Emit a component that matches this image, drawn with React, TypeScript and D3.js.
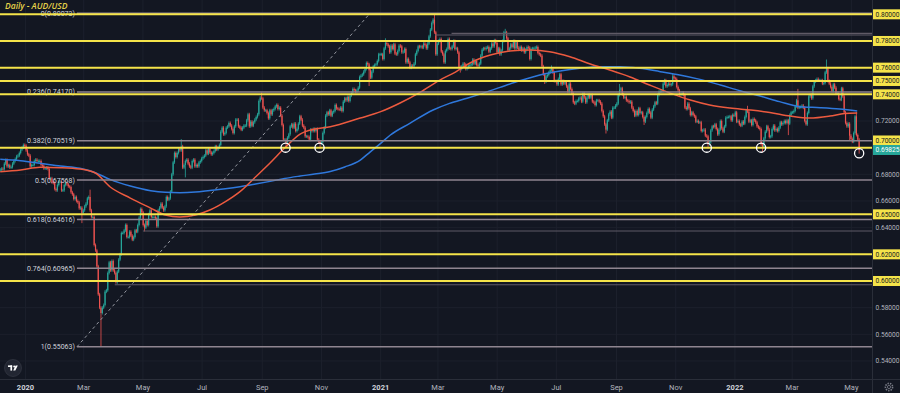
import React, { useEffect, useMemo } from "react";
import * as d3 from "d3";

// ---------------- DATA ----------------
const title = "Daily - AUD/USD";

const firstDay = "2019-12-06";
const lastDay = "2022-05-09";
const firstOpen = 0.683;

const monthKeys = [
  "2019-12",
  "2020-01", "2020-02", "2020-03", "2020-04", "2020-05", "2020-06",
  "2020-07", "2020-08", "2020-09", "2020-10", "2020-11", "2020-12",
  "2021-01", "2021-02", "2021-03", "2021-04", "2021-05", "2021-06",
  "2021-07", "2021-08", "2021-09", "2021-10", "2021-11", "2021-12",
  "2022-01", "2022-02", "2022-03", "2022-04", "2022-05",
];

// daily closes, in pips (price x 10000)
const dec19 = [6835, 6842, 6838, 6880, 6908, 6860, 6868, 6852, 6855, 6880, 6900, 6915, 6935, 6940, 6960, 6985, 7000, 7020];
const jan20 = [7015, 6980, 6950, 6940, 6860, 6870, 6870, 6900, 6910, 6900, 6900, 6900, 6870, 6865, 6845, 6845, 6850, 6840, 6770, 6770, 6740, 6735, 6690];
const feb20 = [6680, 6720, 6745, 6745, 6680, 6680, 6720, 6735, 6725, 6710, 6705, 6665, 6650, 6615, 6630, 6600, 6590, 6545, 6550, 6510];
const mar20 = [6530, 6560, 6580, 6620, 6630, 6530, 6480, 6480, 6270, 6230, 6110, 5900, 5800, 5760, 5800, 5820, 5920, 5930, 6060, 6140, 6080, 6150];
const apr20 = [6080, 6060, 5990, 6070, 6160, 6200, 6360, 6360, 6380, 6420, 6330, 6330, 6370, 6340, 6310, 6330, 6380, 6370, 6420, 6475, 6540, 6515];
const may20 = [6420, 6400, 6450, 6420, 6500, 6530, 6480, 6480, 6480, 6470, 6410, 6530, 6550, 6580, 6550, 6530, 6560, 6630, 6610, 6620, 6670];
const jun20 = [6800, 6890, 6960, 6930, 6960, 6990, 6980, 7010, 6850, 6870, 6900, 6910, 6880, 6860, 6850, 6900, 6910, 6860, 6870, 6860, 6890, 6900];
const jul20 = [6920, 6930, 6940, 6980, 6955, 6990, 6965, 6950, 6960, 6975, 7010, 6985, 7000, 7020, 7120, 7150, 7100, 7110, 7150, 7160, 7185, 7165, 7140];
const aug20 = [7110, 7160, 7210, 7210, 7160, 7150, 7135, 7150, 7165, 7165, 7205, 7250, 7160, 7195, 7165, 7190, 7210, 7230, 7250, 7350, 7375];
const sep20 = [7370, 7300, 7280, 7280, 7260, 7220, 7280, 7250, 7280, 7290, 7310, 7320, 7290, 7300, 7240, 7170, 7060, 7060, 7040, 7075, 7100, 7160];
const oct20 = [7175, 7150, 7180, 7125, 7140, 7180, 7235, 7210, 7165, 7150, 7085, 7085, 7080, 7060, 7135, 7125, 7140, 7125, 7140, 7060, 7045, 7030];
const nov20 = [7040, 7110, 7150, 7240, 7265, 7250, 7280, 7240, 7265, 7275, 7320, 7295, 7290, 7285, 7300, 7275, 7345, 7370, 7355, 7380, 7350];
const dec20 = [7390, 7410, 7440, 7430, 7420, 7430, 7450, 7530, 7540, 7550, 7570, 7590, 7635, 7625, 7580, 7525, 7570, 7610, 7620, 7625, 7650, 7700, 7700];
const jan21 = [7700, 7665, 7745, 7785, 7775, 7760, 7715, 7765, 7740, 7775, 7705, 7700, 7725, 7765, 7760, 7715, 7720, 7740, 7640, 7665, 7640];
const feb21 = [7600, 7615, 7610, 7630, 7700, 7725, 7760, 7755, 7760, 7750, 7780, 7770, 7745, 7780, 7835, 7885, 7935, 7960, 7865, 7700];
const mar21 = [7780, 7800, 7815, 7720, 7700, 7640, 7725, 7740, 7815, 7745, 7740, 7760, 7800, 7740, 7745, 7715, 7605, 7590, 7610, 7630, 7625, 7590, 7600];
const apr21 = [7610, 7620, 7625, 7660, 7630, 7650, 7620, 7615, 7630, 7690, 7735, 7745, 7740, 7750, 7755, 7720, 7745, 7780, 7760, 7805, 7785, 7715];
const may21 = [7745, 7700, 7730, 7800, 7865, 7865, 7820, 7730, 7745, 7775, 7755, 7800, 7745, 7790, 7750, 7735, 7755, 7730, 7745, 7715, 7735];
const jun21 = [7755, 7750, 7665, 7740, 7745, 7745, 7750, 7755, 7710, 7700, 7690, 7610, 7550, 7495, 7535, 7545, 7565, 7580, 7590, 7565, 7500, 7500];
const jul21 = [7475, 7515, 7550, 7475, 7500, 7480, 7495, 7460, 7420, 7480, 7440, 7405, 7340, 7330, 7350, 7350, 7370, 7375, 7345, 7405, 7375, 7340];
const aug21 = [7375, 7395, 7375, 7395, 7345, 7340, 7320, 7355, 7355, 7345, 7330, 7275, 7235, 7175, 7135, 7205, 7250, 7270, 7225, 7300, 7300, 7315];
const sep21 = [7330, 7395, 7435, 7445, 7400, 7375, 7380, 7355, 7350, 7340, 7345, 7300, 7275, 7240, 7275, 7245, 7295, 7260, 7265, 7230, 7195, 7230];
const oct21 = [7260, 7290, 7265, 7225, 7285, 7310, 7340, 7330, 7395, 7420, 7420, 7425, 7480, 7505, 7460, 7470, 7480, 7470, 7475, 7535, 7520];
const nov21 = [7515, 7455, 7430, 7400, 7400, 7410, 7395, 7300, 7290, 7330, 7295, 7245, 7265, 7245, 7235, 7195, 7200, 7190, 7190, 7125, 7130, 7135];
const dec21 = [7090, 7085, 7025, 7040, 7130, 7160, 7155, 7175, 7140, 7100, 7135, 7200, 7145, 7120, 7160, 7225, 7230, 7230, 7235, 7205, 7245, 7240, 7265];
const jan22 = [7195, 7200, 7175, 7165, 7195, 7180, 7230, 7280, 7270, 7195, 7205, 7170, 7215, 7205, 7190, 7160, 7150, 7140, 7025, 7005, 7070];
const feb22 = [7120, 7160, 7135, 7080, 7085, 7140, 7165, 7130, 7140, 7125, 7150, 7190, 7175, 7185, 7200, 7185, 7205, 7180, 7245, 7265];
const mar22 = [7265, 7275, 7310, 7355, 7300, 7305, 7305, 7315, 7300, 7200, 7175, 7260, 7385, 7395, 7370, 7460, 7495, 7505, 7515, 7505, 7505, 7505, 7480];
const apr22 = [7485, 7565, 7595, 7500, 7480, 7455, 7425, 7475, 7450, 7405, 7410, 7365, 7360, 7445, 7385, 7265, 7185, 7160, 7180, 7090, 7065];
const may22 = [7045, 7110, 7235, 7095, 7060, 6982];

const monthlyCloses = [
  dec19, jan20, feb20, mar20, apr20, may20, jun20, jul20, aug20, sep20, oct20, nov20, dec20,
  jan21, feb21, mar21, apr21, may21, jun21, jul21, aug21, sep21, oct21, nov21, dec21,
  jan22, feb22, mar22, apr22, may22,
];

// notable wick extremes
const highDates = ["2020-03-09", "2020-06-10", "2020-09-01", "2021-01-06", "2021-02-25", "2021-05-10", "2021-06-25", "2021-09-03", "2021-10-28", "2022-01-13", "2022-03-07", "2022-04-05", "2022-05-05"];
const highValues = [0.6685, 0.7064, 0.7414, 0.782, 0.8007, 0.7891, 0.7617, 0.7478, 0.7556, 0.7314, 0.7441, 0.7661, 0.7266];
const lowDates = ["2020-02-28", "2020-03-19", "2020-04-03", "2020-05-04", "2020-06-15", "2020-09-25", "2020-10-30", "2020-12-21", "2021-03-24", "2021-06-18", "2021-08-20", "2021-09-29", "2021-12-03", "2022-01-28", "2022-02-24", "2022-03-15", "2022-04-28", "2022-05-09"];
const lowValues = [0.6434, 0.5506, 0.598, 0.6372, 0.6777, 0.7006, 0.6991, 0.7462, 0.7563, 0.7477, 0.7106, 0.717, 0.6993, 0.6967, 0.7094, 0.7165, 0.7054, 0.6955];

// moving averages
const redMADates = ["2019-12-06", "2019-12-27", "2020-01-16", "2020-02-06", "2020-02-26", "2020-03-13", "2020-03-28", "2020-04-18", "2020-05-09", "2020-05-24", "2020-06-08", "2020-06-24", "2020-07-09", "2020-07-25", "2020-08-09", "2020-08-25", "2020-09-09", "2020-09-24", "2020-10-10", "2020-10-25", "2020-11-10", "2020-12-11", "2021-01-01", "2021-01-21", "2021-02-11", "2021-03-03", "2021-03-19", "2021-04-03", "2021-04-24", "2021-05-14", "2021-06-04", "2021-06-24", "2021-07-15", "2021-08-05", "2021-08-25", "2021-09-15", "2021-10-05", "2021-10-26", "2021-11-16", "2021-12-06", "2021-12-27", "2022-01-17", "2022-02-06", "2022-02-27", "2022-03-19", "2022-04-09", "2022-04-24", "2022-05-07"];
const redMAValues = [0.682, 0.6832, 0.6853, 0.685, 0.684, 0.681, 0.6707, 0.6622, 0.6547, 0.6495, 0.648, 0.6495, 0.6532, 0.6595, 0.667, 0.678, 0.6885, 0.6997, 0.7102, 0.714, 0.7157, 0.7222, 0.727, 0.7335, 0.7417, 0.7507, 0.7567, 0.7635, 0.7695, 0.7725, 0.7732, 0.772, 0.7682, 0.7627, 0.7582, 0.753, 0.747, 0.741, 0.7357, 0.732, 0.7297, 0.7282, 0.7264, 0.7237, 0.7222, 0.7237, 0.7256, 0.726];
const blueMADates = ["2019-12-06", "2019-12-27", "2020-01-16", "2020-02-06", "2020-02-26", "2020-03-13", "2020-03-28", "2020-04-18", "2020-05-09", "2020-05-24", "2020-06-08", "2020-06-24", "2020-07-09", "2020-07-25", "2020-08-09", "2020-08-25", "2020-09-09", "2020-09-24", "2020-10-10", "2020-10-25", "2020-11-10", "2020-11-25", "2020-12-11", "2020-12-21", "2021-01-01", "2021-01-11", "2021-01-31", "2021-02-24", "2021-03-13", "2021-03-31", "2021-04-16", "2021-05-04", "2021-05-25", "2021-06-14", "2021-07-05", "2021-07-25", "2021-08-15", "2021-09-05", "2021-09-25", "2021-10-16", "2021-11-05", "2021-11-26", "2021-12-17", "2022-01-06", "2022-01-27", "2022-02-16", "2022-03-09", "2022-03-30", "2022-04-19", "2022-05-07"];
const blueMAValues = [0.6913, 0.6902, 0.6883, 0.6862, 0.6845, 0.6812, 0.6762, 0.6712, 0.6677, 0.6665, 0.6662, 0.6667, 0.6679, 0.6692, 0.6707, 0.6727, 0.6747, 0.6769, 0.6787, 0.6802, 0.6821, 0.6855, 0.6907, 0.6967, 0.7032, 0.7095, 0.7182, 0.7282, 0.7332, 0.737, 0.7407, 0.7452, 0.7503, 0.7545, 0.7575, 0.7595, 0.7607, 0.7607, 0.7595, 0.757, 0.7545, 0.7512, 0.747, 0.7427, 0.7387, 0.7345, 0.7307, 0.73, 0.729, 0.7275];

// drawings
const keyLevels = [0.8, 0.78, 0.76, 0.75, 0.74, 0.7, 0.65, 0.62, 0.6];
const priceTicks = [0.54, 0.56, 0.58, 0.6, 0.62, 0.64, 0.66, 0.68, 0.7, 0.72, 0.74, 0.76, 0.78, 0.8];
const fibRatios = ["0", "0.236", "0.382", "0.5", "0.618", "0.764", "1"];
const fibPrices = [0.80073, 0.7417, 0.70519, 0.67568, 0.64616, 0.60965, 0.55063];
const fibStartDate = "2020-02-23";
const fibEndDate = "2020-12-21";
const rayDates = ["2020-04-02", "2020-05-01", "2021-02-26", "2021-03-15"];
const rayPrices = [0.5972, 0.6375, 0.7845, 0.7857];
const circleDates = ["2020-09-25", "2020-10-30", "2021-12-03", "2022-01-28", "2022-05-09"];
const circleValues = [0.7, 0.7, 0.7, 0.7, 0.6958];
const lastPrice = 0.69825;

// ---------------- LAYOUT / STYLE ----------------
const W = 900;
const H = 393;
const PLOT_R = 872;
const PLOT_B = 379;
const BG = "#131722";
const GRID = "#1c202c";
const UP = "#26a69a";
const DOWN = "#ef5350";
const YELLOW = "#f5e44a";
const FIB = "#8f8590";
const RED_MA = "#ec5a3f";
const BLUE_MA = "#2f78dc";
const AXIS_TXT = "#b2b5be";
const FONT = "Roboto, 'Liberation Sans', sans-serif";
const WICK = 1.5;
const AX_FS = 6.6;
const AX_X = 875.5;

const parse = (s: string) => new Date(s + "T00:00:00Z");
const DAY = 86400000;

type Candle = { date: Date; open: number; close: number; high?: number; low?: number };

function weekdays(from: Date, to: Date) {
  const out: Date[] = [];
  for (let t = from.getTime(); t <= to.getTime(); t += DAY) {
    const d = new Date(t);
    const w = d.getUTCDay();
    if (w !== 0 && w !== 6) out.push(d);
  }
  return out;
}

function buildCandles(): Candle[] {
  const out: Candle[] = [];
  let prev = firstOpen;
  monthKeys.forEach((key, mi) => {
    const [yy, mm] = key.split("-").map(Number);
    const start = mi === 0 ? parse(firstDay) : new Date(Date.UTC(yy, mm - 1, 1));
    const end = mi === monthKeys.length - 1 ? parse(lastDay) : new Date(Date.UTC(yy, mm, 0));
    const days = weekdays(start, end);
    const closes = monthlyCloses[mi];
    closes.forEach((p, i) => {
      const date =
        days.length === closes.length
          ? days[i]
          : new Date(start.getTime() + ((i + 0.5) / closes.length) * (end.getTime() - start.getTime()));
      const c = p / 10000;
      out.push({ date, open: prev, close: c });
      prev = c;
    });
  });
  const nearest = (ds: string) => {
    const t = parse(ds).getTime();
    let best = 0;
    let bd = Infinity;
    out.forEach((c, i) => {
      const d = Math.abs(c.date.getTime() - t);
      if (d < bd) {
        bd = d;
        best = i;
      }
    });
    return out[best];
  };
  highDates.forEach((ds, i) => {
    const c = nearest(ds);
    c.high = Math.max(highValues[i], c.open, c.close);
  });
  lowDates.forEach((ds, i) => {
    const c = nearest(ds);
    c.low = Math.min(lowValues[i], c.open, c.close);
  });
  return out;
}

export default function App() {
  useEffect(() => {
    document.body.style.margin = "0";
    document.body.style.background = BG;
  }, []);

  const candles = useMemo(buildCandles, []);

  const x = d3
    .scaleUtc()
    .domain([new Date("2019-12-05T18:00:00Z"), new Date("2022-05-22T06:00:00Z")])
    .range([0, PLOT_R]);
  const y = d3.scaleLinear().domain([0.5265, 0.81073]).range([PLOT_B, 0]);
  const xIdx = d3
    .scaleLinear()
    .domain([0, candles.length - 1])
    .range([x(candles[0].date), x(candles[candles.length - 1].date)]);

  const maLine = d3
    .line<[Date, number]>()
    .x((d) => x(d[0]))
    .y((d) => y(d[1]))
    .curve(d3.curveMonotoneX);
  const redPath = maLine(redMADates.map((d, i) => [parse(d), redMAValues[i]]));
  const bluePath = maLine(blueMADates.map((d, i) => [parse(d), blueMAValues[i]]));

  const monthTicks = d3.utcMonth.every(2)!.range(new Date(Date.UTC(2020, 0, 1)), new Date(Date.UTC(2022, 5, 2)));
  const fmtMonth = d3.utcFormat("%b");
  const fmtYear = d3.utcFormat("%Y");

  const fibX0 = x(parse(fibStartDate));
  const fibX1 = x(parse(fibEndDate));

  const yLast = y(lastPrice);
  const labelY = (v: number) => {
    const yy = y(v);
    if (Math.abs(yy - yLast) < 10) return yLast - 9.5;
    return yy;
  };

  const greyTicks = priceTicks.filter((t) => !keyLevels.some((k) => Math.abs(y(k) - y(t)) < 10) && Math.abs(y(t) - yLast) > 9);

  return (
    <svg
      width={W}
      height={H}
      style={{ position: "absolute", left: 0, top: 0, display: "block", background: BG }}
      fontFamily={FONT}
    >
      <rect x={0} y={0} width={W} height={H} fill={BG} />
      {/* grid */}
      {priceTicks.map((t) => (
        <line key={"gy" + t} x1={0} x2={PLOT_R} y1={y(t)} y2={y(t)} stroke={GRID} strokeWidth={1} />
      ))}
      {monthTicks.map((d) => (
        <line key={"gx" + d.getTime()} x1={x(d)} x2={x(d)} y1={0} y2={PLOT_B} stroke={GRID} strokeWidth={1} />
      ))}

      {/* candles */}
      <g>
        {candles.map((c, i) => {
          const cx = xIdx(i);
          const up = c.close >= c.open;
          const col = up ? UP : DOWN;
          const yO = y(c.open);
          const yC = y(c.close);
          const top = Math.min(yO, yC);
          const bot = Math.max(yO, yC);
          const yH = c.high != null ? y(c.high) : top - WICK;
          const yL = c.low != null ? y(c.low) : bot + WICK;
          return (
            <g key={i}>
              <line x1={cx} x2={cx} y1={yH} y2={yL} stroke={col} strokeWidth={0.8} />
              <rect x={cx - 0.6} y={top} width={1.2} height={Math.max(bot - top, 0.8)} fill={col} />
            </g>
          );
        })}
      </g>

      {/* moving averages */}
      <path d={bluePath || ""} fill="none" stroke={BLUE_MA} strokeWidth={1.5} />
      <path d={redPath || ""} fill="none" stroke={RED_MA} strokeWidth={1.5} />

      {/* fib retracement */}
      <line
        x1={fibX0}
        y1={y(fibPrices[fibPrices.length - 1])}
        x2={fibX1}
        y2={y(fibPrices[0])}
        stroke="#9598a1"
        strokeWidth={1}
        strokeDasharray="3,3"
      />
      {fibPrices.map((p, i) => (
        <g key={"fib" + i}>
          <line x1={fibX0} x2={PLOT_R} y1={y(p)} y2={y(p)} stroke={FIB} strokeWidth={1.5} />
          <text x={fibX0 - 2} y={y(p)} dy="0.35em" textAnchor="end" fontSize={7} fill="#d1d4dc">
            {`${fibRatios[i]}(${p.toFixed(5)})`}
          </text>
        </g>
      ))}
      {/* horizontal rays */}
      {rayDates.map((d, i) => (
        <line key={"ray" + i} x1={x(parse(d))} x2={PLOT_R} y1={y(rayPrices[i])} y2={y(rayPrices[i])} stroke="#5f5a66" strokeWidth={1.2} />
      ))}

      {/* key horizontal levels */}
      {keyLevels.map((k) => (
        <line key={"k" + k} x1={0} x2={PLOT_R} y1={y(k)} y2={y(k)} stroke={YELLOW} strokeWidth={2} />
      ))}

      {/* circles */}
      {circleDates.map((d, i) => (
        <circle key={"c" + i} cx={x(parse(d))} cy={y(circleValues[i])} r={4.6} fill="none" stroke="#ffffff" strokeWidth={1.3} />
      ))}

      {/* title */}
      <text x={5} y={8.5} fontSize={8.5} fontStyle="italic" fontWeight={600} fill="#e6d34a" fontFamily="'Open Sans', sans-serif">
        {title}
      </text>

      {/* axis separators */}
      <line x1={PLOT_R + 0.5} x2={PLOT_R + 0.5} y1={0} y2={H} stroke="#2a2e39" strokeWidth={1} />
      <line x1={0} x2={W} y1={PLOT_B + 0.5} y2={PLOT_B + 0.5} stroke="#2a2e39" strokeWidth={1} />

      {/* price axis */}
      {greyTicks.map((t) => (
        <text key={"pt" + t} x={AX_X} y={y(t)} dy="0.35em" fontSize={AX_FS} fill={AXIS_TXT}>
          {t.toFixed(5)}
        </text>
      ))}
      {keyLevels.map((k) => {
        const ly = labelY(k);
        return (
          <g key={"kl" + k}>
            <rect x={PLOT_R + 1} y={ly - 5} width={W - PLOT_R - 1} height={10} fill={YELLOW} />
            <text x={AX_X} y={ly} dy="0.35em" fontSize={AX_FS} fill="#131722">
              {k.toFixed(5)}
            </text>
          </g>
        );
      })}
      <rect x={PLOT_R + 1} y={yLast - 5} width={W - PLOT_R - 1} height={10} fill={UP} />
      <text x={AX_X} y={yLast} dy="0.35em" fontSize={AX_FS} fill="#ffffff">
        {lastPrice.toFixed(5)}
      </text>

      {/* time axis */}
      {monthTicks.map((d) => {
        const isYear = d.getUTCMonth() === 0;
        return (
          <text
            key={"mt" + d.getTime()}
            x={x(d)}
            y={387}
            dy="0.35em"
            textAnchor="middle"
            fontSize={7.5}
            fontWeight={isYear ? 700 : 400}
            fill={isYear ? "#d1d4dc" : AXIS_TXT}
          >
            {isYear ? fmtYear(d) : fmtMonth(d)}
          </text>
        );
      })}

      {/* logo */}
      <g transform="translate(13,368)">
        <circle r={8.5} fill="#222632" stroke="#3a3e4a" strokeWidth={0.6} />
        <rect x={-5} y={-2.6} width={4.2} height={1.6} fill="#ffffff" />
        <rect x={-2.6} y={-2.6} width={1.7} height={5.2} fill="#ffffff" />
        <circle cx={1.2} cy={-1.6} r={1} fill="#ffffff" />
        <polygon points="0.2,2.6 2.6,-2.6 4.8,-2.6 2.3,2.6" fill="#ffffff" />
      </g>

      {/* settings gear */}
      <g transform="translate(889,387)">
        <circle r={3.6} fill="none" stroke="#787b86" strokeWidth={1.6} strokeDasharray="1.4,1.1" />
        <circle r={1.6} fill="none" stroke="#787b86" strokeWidth={0.8} />
      </g>
    </svg>
  );
}
